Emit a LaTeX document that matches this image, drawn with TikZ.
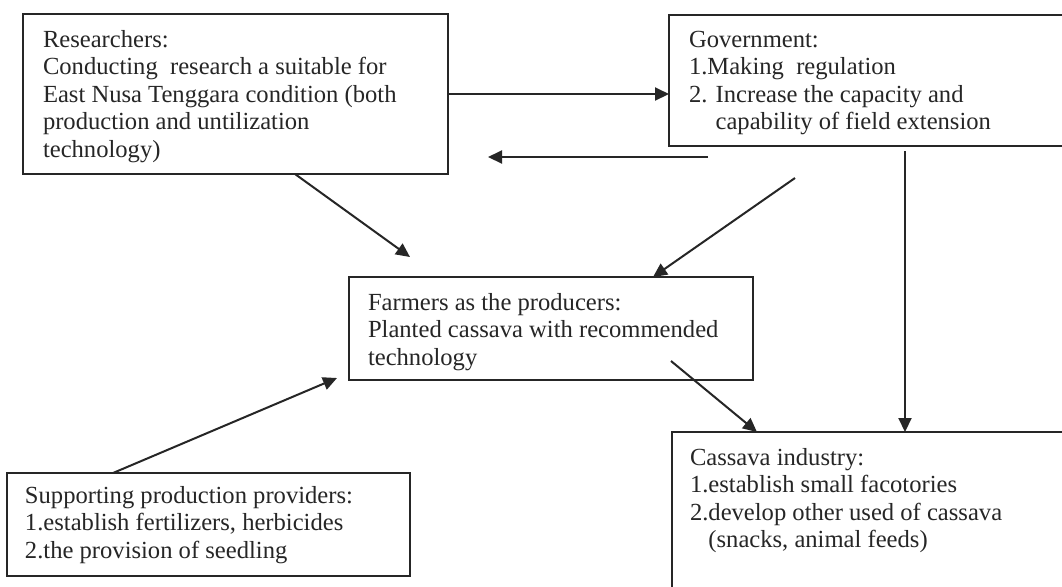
\documentclass[tikz,border=0pt]{standalone}
\usepackage{fontspec}
\setmainfont{Liberation Serif}
\usetikzlibrary{arrows.meta,fit}
\begin{document}
\begin{tikzpicture}[x=0.5pt,y=-0.5pt,
  box/.style={draw=black!85,line width=0.9pt,inner sep=0pt,outer sep=0pt},
  txt/.style={anchor=north west,inner sep=0pt,outer sep=0pt,align=left,
    font=\fontsize{12.3}{13.75}\selectfont,text=black!85},
  arr/.style={draw=black!85,line width=1pt,-{Triangle[length=7pt,width=6.5pt]}}]
\clip (0,0) rectangle (1062,586);
\fill[white] (0,0) rectangle (1062,586);
% boxes
\node[box,fit={(23,14) (448,174)}] (R) {};
\node[box,fit={(669,15) (1075,146)}] (G) {};
\node[box,fit={(349,277) (753,380)}] (F) {};
\node[box,fit={(7,473) (410,576)}] (S) {};
\node[box,fit={(672,432) (1075,600)}] (C) {};
% texts
\node[txt] (Rt) at (43,27.75) {\strut Researchers:\\Conducting\ \ research a suitable for\\East Nusa Tenggara condition (both\\production and untilization\\technology)};
\node[txt] (Gt) at (689,27.75) {\strut Government:\\1.Making\ \ regulation\\2. Increase the capacity and\\\phantom{2. }capability of field extension};
\node[txt] (Ft) at (368,290.75) {\strut Farmers as the producers:\\Planted cassava with recommended\\technology};
\node[txt] (St) at (25,483.75) {\strut Supporting production providers:\\1.establish fertilizers, herbicides\\2.the provision of seedling};
\node[txt] (Ct) at (690,445.75) {\strut Cassava industry:\\1.establish small facotories\\2.develop other used of cassava\\\phantom{2.}(snacks, animal feeds)};
% connector end points
\coordinate (g2rs) at (708,157);
\coordinate (g2re) at (488,157);
\coordinate (r2fs) at (295,174);
\coordinate (r2fe) at (410,257);
\coordinate (g2fs) at (795,178);
\coordinate (g2fe) at (653,277);
\coordinate (g2cs) at (905,151);
\coordinate (g2ce) at (905,432);
\coordinate (f2cs) at (671,361);
\coordinate (f2ce) at (757,432);
\coordinate (s2fs) at (113,473);
\coordinate (s2fe) at (337,378);
% connectors
\draw[arr] (R.east) -- (R.east -| G.west);
\draw[arr] (g2rs) -- (g2re);
\draw[arr] (r2fs) -- (r2fe);
\draw[arr] (g2fs) -- (g2fe);
\draw[arr] (g2cs) -- (g2ce);
\draw[arr] (f2cs) -- (f2ce);
\draw[arr] (s2fs) -- (s2fe);
\end{tikzpicture}
\end{document}
